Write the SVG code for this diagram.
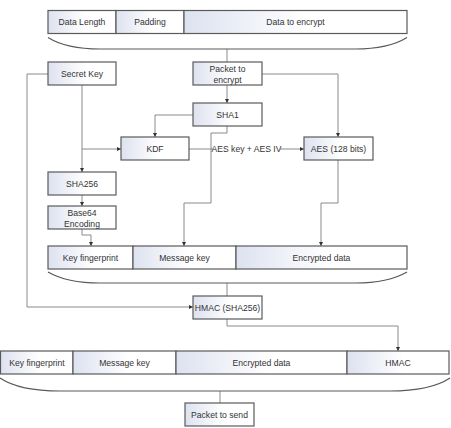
<svg xmlns="http://www.w3.org/2000/svg" width="451" height="428" viewBox="0 0 451 428">
<defs>
<linearGradient id="g" x1="0" y1="0" x2="1" y2="0">
<stop offset="0" stop-color="#dde2f0"/>
<stop offset="0.55" stop-color="#ffffff"/>
</linearGradient>
<marker id="a" viewBox="0 0 6 6" refX="6" refY="3" markerWidth="4.5" markerHeight="4.5" orient="auto" markerUnits="userSpaceOnUse">
<path d="M0,0 L6,3 L0,6 z" fill="#333"/>
</marker>
</defs>
<style>
.b{fill:url(#g);stroke:#5a5a5a;stroke-width:1.2}
.t{font-family:"Liberation Sans",Arial,sans-serif;font-size:8.6px;fill:#333;text-anchor:middle}
.c{fill:none;stroke:#8a8a8a;stroke-width:1}
.br{fill:none;stroke:#5a5a5a;stroke-width:1.2}
.ar{marker-end:url(#a)}
</style>
<rect width="451" height="428" fill="#fff"/>

<g id="connectors">
<path class="c" d="M227,49 V62"/>
<path class="c ar" d="M227,85 V103"/>
<path class="c ar" d="M262,74 H338 V137"/>
<path class="c ar" d="M193,115 H155 V137"/>
<path class="c ar" d="M82,85 V172"/>
<path class="c ar" d="M82,149 H121"/>
<path class="c ar" d="M189,149 H304"/>
<path class="c ar" d="M227,126 V133 H211 V203 H184 V246"/>
<path class="c ar" d="M338,160 V203 H321 V246"/>
<path class="c ar" d="M82,195 V206"/>
<path class="c ar" d="M82,229 V235 H91 V246"/>
<path class="c ar" d="M48,74 H27 V307 H193"/>
<path class="c" d="M227,283 V296"/>
<path class="c ar" d="M227,319 V326 H398 V351"/>
<path class="c" d="M220,391 V403"/>
<rect x="213" y="143" width="67" height="12" fill="#fff"/>
<text class="t" x="246.5" y="152">AES key + AES IV</text>
</g>

<g id="input-packet">
<rect class="b" x="48" y="10.5" width="68" height="23"/>
<rect class="b" x="116" y="10.5" width="68" height="23"/>
<rect class="b" x="184" y="10.5" width="223" height="23"/>
<text class="t" x="82" y="25">Data Length</text>
<text class="t" x="150" y="25">Padding</text>
<text class="t" x="295.5" y="25">Data to encrypt</text>
<path class="br" d="M48,37.5 C60,45 75,49 100,49 L355,49 C380,49 395,45 407,37.5"/>
</g>

<g id="secret-key">
<rect class="b" x="48" y="62" width="68" height="23"/>
<text class="t" x="82" y="76.5">Secret Key</text>
</g>

<g id="packet-to-encrypt">
<rect class="b" x="193" y="62" width="69" height="23"/>
<text class="t" x="227.5" y="71.5">Packet to</text>
<text class="t" x="227.5" y="82.5">encrypt</text>
</g>

<g id="sha1">
<rect class="b" x="193" y="103" width="69" height="23"/>
<text class="t" x="227.5" y="117.5">SHA1</text>
</g>

<g id="kdf">
<rect class="b" x="121" y="137" width="68" height="23"/>
<text class="t" x="155" y="151.5">KDF</text>
</g>

<g id="aes">
<rect class="b" x="304" y="137" width="69" height="23"/>
<text class="t" x="338.5" y="151.5">AES (128 bits)</text>
</g>

<g id="sha256">
<rect class="b" x="48" y="172" width="68" height="23"/>
<text class="t" x="82" y="186.5">SHA256</text>
</g>

<g id="base64">
<rect class="b" x="48" y="206" width="68" height="23"/>
<text class="t" x="82" y="215.5">Base64</text>
<text class="t" x="82" y="226.5">Encoding</text>
</g>

<g id="encrypted-packet">
<rect class="b" x="48" y="246" width="85" height="23"/>
<rect class="b" x="133" y="246" width="103" height="23"/>
<rect class="b" x="236" y="246" width="171" height="23"/>
<text class="t" x="90.5" y="260.5">Key fingerprint</text>
<text class="t" x="184.5" y="260.5">Message key</text>
<text class="t" x="321.5" y="260.5">Encrypted data</text>
<path class="br" d="M48,272 C60,279 75,283 100,283 L355,283 C380,283 395,279 407,272"/>
</g>

<g id="hmac">
<rect class="b" x="193" y="296" width="69" height="23"/>
<text class="t" x="227.5" y="310.5">HMAC (SHA256)</text>
</g>

<g id="final-packet">
<rect class="b" x="0.5" y="351" width="72.5" height="23"/>
<rect class="b" x="73" y="351" width="103" height="23"/>
<rect class="b" x="176" y="351" width="171" height="23"/>
<rect class="b" x="347" y="351" width="102" height="23"/>
<text class="t" x="37" y="365.5">Key fingerprint</text>
<text class="t" x="124.5" y="365.5">Message key</text>
<text class="t" x="261.5" y="365.5">Encrypted data</text>
<text class="t" x="398" y="365.5">HMAC</text>
<path class="br" d="M0,378 C12,386 30,391 60,391 L390,391 C420,391 438,386 450,378"/>
</g>

<g id="packet-to-send">
<rect class="b" x="185" y="403" width="69" height="23"/>
<text class="t" x="219.5" y="417.5">Packet to send</text>
</g>
</svg>
